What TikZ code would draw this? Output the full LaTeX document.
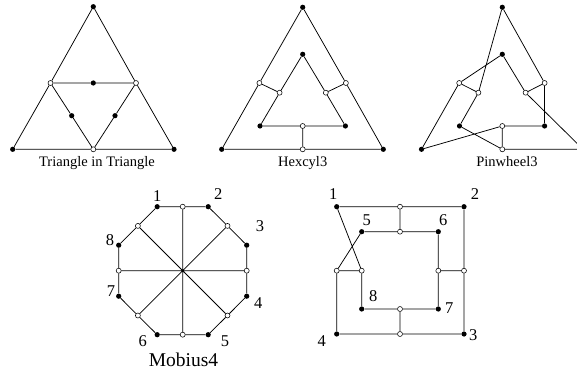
\documentclass[tikz,border=0pt]{standalone}
\usepackage{fontspec}
\setmainfont{Liberation Serif}
\newfontfamily\timesfont{Liberation Serif}
\begin{document}
\begin{tikzpicture}[x=1pt,y=-1pt,
  bdot/.style={circle,fill=black,inner sep=0pt,minimum size=5.2pt},
  wdot/.style={circle,draw=black,fill=white,line width=0.55pt,inner sep=0pt,minimum size=5pt},
  edge/.style={line width=0.75pt},
  capt/.style={font=\timesfont\fontsize{14.5}{16}\selectfont,anchor=base,inner sep=0pt},
  bigcapt/.style={font=\timesfont\fontsize{19.5}{21}\selectfont,anchor=base,inner sep=0pt},
  num/.style={font=\timesfont\fontsize{16.5}{18}\selectfont,inner sep=0pt}]
\useasboundingbox (0,0) rectangle (577,371);
\clip (0,0) rectangle (577,371);
% ---------- Triangle in Triangle ----------
\node[bdot] (atop) at (93.3,6.7) {};
\node[bdot] (abl) at (12.7,149.3) {};
\node[bdot] (abr) at (174,149.3) {};
\node[wdot] (aml) at (50.5,83) {};
\node[wdot] (amr) at (136,83) {};
\node[wdot] (abm) at (93.3,149.3) {};
\node[bdot] (amt) at (93.3,83) {};
\node[bdot] (ail) at (71.7,115.7) {};
\node[bdot] (air) at (115,115.7) {};
\draw[edge] (atop)--(aml) (aml)--(abl) (atop)--(amr) (amr)--(abr)
  (abl)--(abm) (abm)--(abr) (aml)--(amt) (amt)--(amr)
  (aml)--(ail) (ail)--(abm) (amr)--(air) (air)--(abm);
\node[capt] (acap) at (97,167) {Triangle in Triangle};
% ---------- Hexcyl3 ----------
\node[bdot] (htop) at (302.7,7.3) {};
\node[bdot] (hbl) at (221.7,149.3) {};
\node[bdot] (hbr) at (383.3,149.3) {};
\node[wdot] (hbm) at (302.7,149.3) {};
\node[wdot] (hol) at (259.4,83) {};
\node[wdot] (hor) at (345.9,83) {};
\node[bdot] (hit) at (302.7,54.3) {};
\node[wdot] (hil) at (279.6,92.7) {};
\node[wdot] (hir) at (325.8,92.7) {};
\node[bdot] (hibl) at (260,126) {};
\node[bdot] (hibr) at (345.4,126) {};
\node[wdot] (hib) at (302.7,126) {};
\draw[edge] (htop)--(hol) (hol)--(hbl) (htop)--(hor) (hor)--(hbr)
  (hbl)--(hbm) (hbm)--(hbr)
  (hit)--(hil) (hil)--(hibl) (hit)--(hir) (hir)--(hibr)
  (hibl)--(hib) (hib)--(hibr)
  (hol)--(hil) (hor)--(hir) (hbm)--(hib);
\node[capt] (hcap) at (302.7,167) {Hexcyl3};
% ---------- Pinwheel3 ----------
\node[bdot] (ptop) at (502.3,7.3) {};
\node[bdot] (pbl) at (421.5,149.3) {};
\node[bdot] (pbr) at (583.1,149.3) {};
\node[wdot] (pbm) at (502.3,149.3) {};
\node[wdot] (pol) at (459.2,83) {};
\node[wdot] (por) at (544.6,83) {};
\node[bdot] (pit) at (502.3,54.3) {};
\node[wdot] (pil) at (478.4,92.7) {};
\node[wdot] (pir) at (525.6,92.7) {};
\node[bdot] (pibl) at (459.5,126) {};
\node[bdot] (pibr) at (544.6,126) {};
\node[wdot] (pib) at (502.3,126) {};
\draw[edge] (ptop)--(por) (ptop)--(pil) (pol)--(pit) (pol)--(pil)
  (pol)--(pbl) (pil)--(pibl) (pibl)--(pbm) (pbl)--(pib)
  (pib)--(pbm) (pib)--(pibr) (pibr)--(por) (por)--(pir)
  (pit)--(pir) (pir)--(pbr) (pbm)--(pbr);
\node[capt] (pcap) at (507,167) {Pinwheel3};
% ---------- Mobius4 ----------
\node[bdot] (m1) at (157.2,206.7) {};
\node[wdot] (mwt) at (182.7,206.7) {};
\node[bdot] (m2) at (208.2,206.7) {};
\node[wdot] (mwtr) at (227.5,225.9) {};
\node[bdot] (m3) at (246.7,245.2) {};
\node[wdot] (mwr) at (246.7,270.7) {};
\node[bdot] (m4) at (246.7,296.2) {};
\node[wdot] (mwbr) at (227.5,315.5) {};
\node[bdot] (m5) at (208.2,334.7) {};
\node[wdot] (mwb) at (182.7,334.7) {};
\node[bdot] (m6) at (157.2,334.7) {};
\node[wdot] (mwbl) at (137.9,315.5) {};
\node[bdot] (m7) at (118.7,296.2) {};
\node[wdot] (mwl) at (118.7,270.7) {};
\node[bdot] (m8) at (118.7,245.2) {};
\node[wdot] (mwtl) at (137.9,225.9) {};
\draw[edge] (m1)--(mwt) (mwt)--(m2) (m2)--(mwtr) (mwtr)--(m3) (m3)--(mwr)
  (mwr)--(m4) (m4)--(mwbr) (mwbr)--(m5) (m5)--(mwb) (mwb)--(m6)
  (m6)--(mwbl) (mwbl)--(m7) (m7)--(mwl) (mwl)--(m8) (m8)--(mwtl) (mwtl)--(m1)
  (mwt)--(mwb) (mwtr)--(mwbl) (mwr)--(mwl) (mwbr)--(mwtl);
\node[num] (ml1) at (157.3,195.7) {1};
\node[num] (ml2) at (218.3,194.3) {2};
\node[num] (ml3) at (260,225.7) {3};
\node[num] (ml4) at (258.3,303.3) {4};
\node[num] (ml5) at (225,340.7) {5};
\node[num] (ml6) at (142.7,340.7) {6};
\node[num] (ml7) at (111,290.7) {7};
\node[num] (ml8) at (110,240) {8};
\node[bigcapt] (mcap) at (183.5,366.5) {Mobius4};
% ---------- square graph ----------
\node[bdot] (s1) at (336.7,206.7) {};
\node[wdot] (sot) at (400,206.7) {};
\node[bdot] (s2) at (464,206.7) {};
\node[wdot] (sor) at (464,270.7) {};
\node[bdot] (s3) at (464,334) {};
\node[wdot] (sob) at (400,334) {};
\node[bdot] (s4) at (336.7,334) {};
\node[wdot] (sol) at (336.7,270.7) {};
\node[bdot] (s5) at (361.7,231.7) {};
\node[wdot] (sit) at (400,231.7) {};
\node[bdot] (s6) at (438.3,231.7) {};
\node[wdot] (sir) at (438.3,270.7) {};
\node[bdot] (s7) at (438.3,309) {};
\node[wdot] (sib) at (400,309) {};
\node[bdot] (s8) at (361.7,309) {};
\node[wdot] (sil) at (361.7,270.7) {};
\draw[edge] (s1)--(sot) (sot)--(s2) (s2)--(sor) (sor)--(s3) (s3)--(sob) (sob)--(s4)
  (s4)--(sol) (sol)--(sil) (sol)--(s5) (s1)--(sil)
  (s5)--(sit) (sit)--(s6) (s6)--(sir) (sir)--(s7) (s7)--(sib) (sib)--(s8) (s8)--(sil)
  (sot)--(sit) (sor)--(sir) (sob)--(sib);
\node[num] (sl1) at (333.3,194.3) {1};
\node[num] (sl2) at (475,194.3) {2};
\node[num] (sl5) at (366.7,220) {5};
\node[num] (sl6) at (443.3,220) {6};
\node[num] (sl8) at (373.3,295.7) {8};
\node[num] (sl7) at (449.3,308.3) {7};
\node[num] (sl3) at (473.3,335) {3};
\node[num] (sl4) at (321.7,340.7) {4};
\end{tikzpicture}
\end{document}
